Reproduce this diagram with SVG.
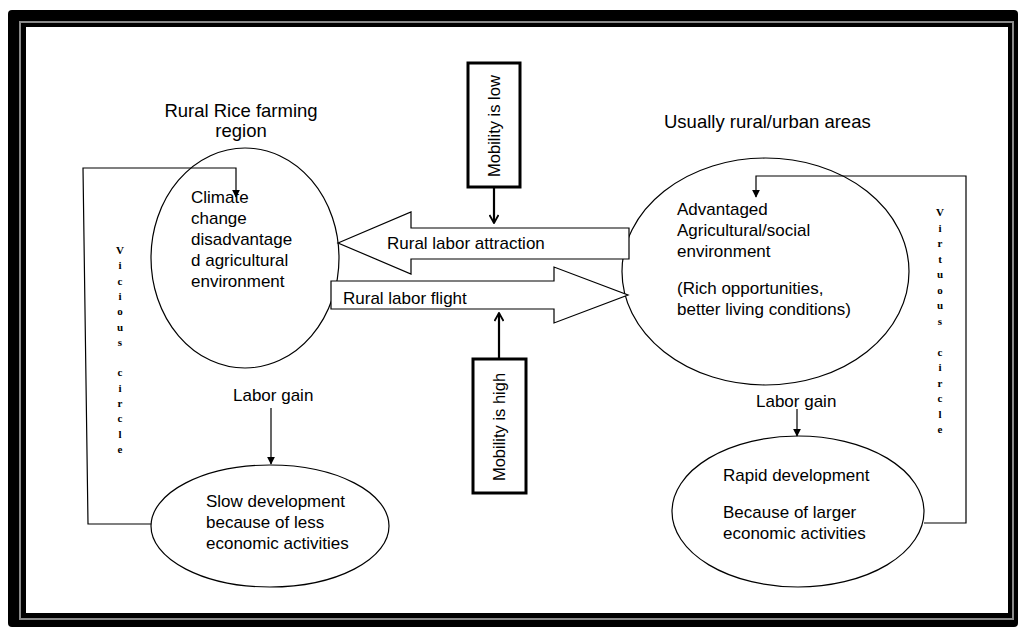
<svg xmlns="http://www.w3.org/2000/svg" width="1018" height="627" viewBox="0 0 1018 627">
<defs>
<style>
.t{font-family:"Liberation Sans",Arial,sans-serif;font-size:17px;fill:#000}
.h{font-family:"Liberation Sans",Arial,sans-serif;font-size:18.5px;fill:#000}
.v{font-family:"Liberation Serif","Times New Roman",serif;font-size:11px;font-weight:bold;fill:#000}
.sh{fill:#fff;stroke:#000;stroke-width:1.2}
.ln{fill:none;stroke:#000;stroke-width:1.2}
.mb{fill:#fff;stroke:#000;stroke-width:3}
.ma{fill:none;stroke:#000;stroke-width:2.2}
</style>
<marker id="tri" viewBox="0 0 10 10" refX="9" refY="5" markerWidth="8" markerHeight="8" markerUnits="userSpaceOnUse" orient="auto">
<path d="M0,0 L10,5 L0,10 z" fill="#000"/>
</marker>
<marker id="chev" viewBox="0 0 10 10" refX="9" refY="5" markerWidth="10" markerHeight="10" markerUnits="userSpaceOnUse" orient="auto">
<path d="M1,0.5 L9,5 L1,9.5" fill="none" stroke="#000" stroke-width="1.8"/>
</marker>
</defs>

<g id="frame">
<rect x="8" y="10" width="1010" height="617" rx="4" fill="#000"/>
<rect x="19" y="21" width="995" height="599" fill="#8a8a8a"/>
<rect x="21" y="23" width="991" height="595" fill="#000"/>
<rect x="26" y="27" width="982" height="586" fill="#fff"/>
</g>

<g id="rural-region">
<text class="h" x="241" y="117" text-anchor="middle">Rural Rice farming</text>
<text class="h" x="241" y="137" text-anchor="middle">region</text>
<ellipse class="sh" cx="245" cy="258" rx="94" ry="110"/>
<text class="t" x="191" y="203">Climate</text>
<text class="t" x="191" y="224">change</text>
<text class="t" x="191" y="245">disadvantage</text>
<text class="t" x="191" y="266">d agricultural</text>
<text class="t" x="191" y="287">environment</text>
</g>

<g id="urban-region">
<text class="h" x="664" y="128">Usually rural/urban areas</text>
<ellipse class="sh" cx="765.5" cy="271.5" rx="143.5" ry="113.5"/>
<text class="t" x="677" y="215">Advantaged</text>
<text class="t" x="677" y="236">Agricultural/social</text>
<text class="t" x="677" y="257">environment</text>
<text class="t" x="677" y="294">(Rich opportunities,</text>
<text class="t" x="677" y="315">better living conditions)</text>
</g>

<g id="slow-development">
<ellipse class="sh" cx="270" cy="526" rx="119" ry="61"/>
<text class="t" x="206" y="507">Slow development</text>
<text class="t" x="206" y="528">because of less</text>
<text class="t" x="206" y="549">economic activities</text>
</g>

<g id="rapid-development">
<ellipse class="sh" cx="798" cy="511.5" rx="126" ry="75.5"/>
<text class="t" x="723" y="481">Rapid development</text>
<text class="t" x="723" y="518">Because of larger</text>
<text class="t" x="723" y="539">economic activities</text>
</g>

<g id="attraction-arrow">
<path class="sh" d="M338,243 L411,212 L411,228 L629,228 L629,259 L411,259 L411,274 Z" stroke-width="1"/>
<text class="t" x="387" y="249">Rural labor attraction</text>
</g>

<g id="flight-arrow">
<path class="sh" d="M331,281 L554,281 L554,267 L628,295 L554,323 L554,309 L331,309 Z" stroke-width="1"/>
<text class="t" x="343" y="304">Rural labor flight</text>
</g>

<g id="mobility-low">
<rect class="mb" x="468" y="63" width="52" height="124"/>
<text class="t" transform="translate(500,126) rotate(-90)" text-anchor="middle" style="font-size:16.5px">Mobility is low</text>
</g>

<g id="mobility-high">
<rect class="mb" x="473" y="359" width="53" height="134"/>
<text class="t" transform="translate(505,427) rotate(-90)" text-anchor="middle" style="font-size:16.5px">Mobility is high</text>
</g>

<g id="labels">
<text class="t" x="233" y="401">Labor gain</text>
<text class="t" x="756" y="407">Labor gain</text>
<text class="v" x="120" y="254" text-anchor="middle"><tspan x="120">V</tspan><tspan x="120" dy="15.3">i</tspan><tspan x="120" dy="15.3">c</tspan><tspan x="120" dy="15.3">i</tspan><tspan x="120" dy="15.3">o</tspan><tspan x="120" dy="15.3">u</tspan><tspan x="120" dy="15.3">s</tspan><tspan x="120" dy="30.6">c</tspan><tspan x="120" dy="15.3">i</tspan><tspan x="120" dy="15.3">r</tspan><tspan x="120" dy="15.3">c</tspan><tspan x="120" dy="15.3">l</tspan><tspan x="120" dy="15.3">e</tspan></text>
<text class="v" x="940" y="216" text-anchor="middle"><tspan x="940">V</tspan><tspan x="940" dy="15.5">i</tspan><tspan x="940" dy="15.5">r</tspan><tspan x="940" dy="15.5">t</tspan><tspan x="940" dy="15.5">u</tspan><tspan x="940" dy="15.5">o</tspan><tspan x="940" dy="15.5">u</tspan><tspan x="940" dy="15.5">s</tspan><tspan x="940" dy="31">c</tspan><tspan x="940" dy="15.5">i</tspan><tspan x="940" dy="15.5">r</tspan><tspan x="940" dy="15.5">c</tspan><tspan x="940" dy="15.5">l</tspan><tspan x="940" dy="15.5">e</tspan></text>
</g>

<g id="connectors">
<polyline class="ln" points="151,524 88,524 83,168 236,168 236,197" marker-end="url(#tri)"/>
<polyline class="ln" points="924,523 966,523 966,176 756,176 756,197" marker-end="url(#tri)"/>
<line class="ln" x1="271" y1="408" x2="271" y2="464" stroke-width="1.6" marker-end="url(#tri)"/>
<line class="ln" x1="797" y1="409" x2="797" y2="436" stroke-width="1.6" marker-end="url(#tri)"/>
<line class="ma" x1="494" y1="187" x2="494" y2="223" marker-end="url(#chev)"/>
<line class="ma" x1="499" y1="359" x2="499" y2="313" marker-end="url(#chev)"/>
</g>
</svg>
